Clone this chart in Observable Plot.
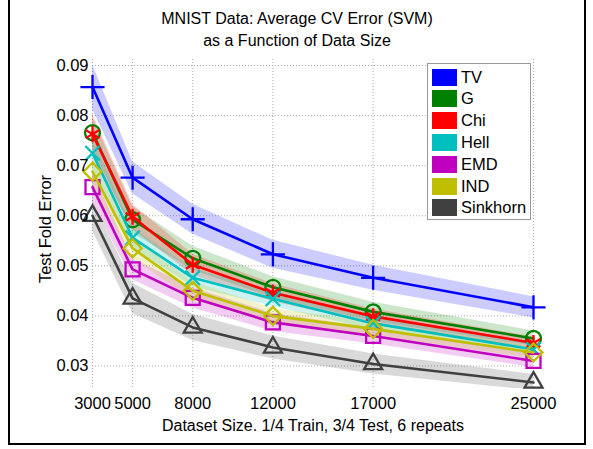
<!DOCTYPE html>
<html><head><meta charset="utf-8">
<script src="https://cdn.jsdelivr.net/npm/d3@7"></script>
<script src="https://cdn.jsdelivr.net/npm/@observablehq/plot@0.6"></script>
<style>
body{margin:0;background:#fff;}
#wrap{position:relative;width:593px;height:449px;font-family:"Liberation Sans",Arial,sans-serif;overflow:hidden;}
#frame{position:absolute;left:8px;top:-4px;width:578px;height:449px;border:2px solid #000;box-sizing:border-box;pointer-events:none;}
#legend{position:absolute;left:427px;top:63px;width:104px;height:157px;border:1px solid #999;background:#fff;box-sizing:border-box;}
.item{position:absolute;left:4px;height:18px;display:flex;align-items:center;font-size:16.5px;color:#000;}
.sw{width:25px;height:17px;margin-right:4px;box-sizing:border-box;}
</style></head>
<body>
<div id="wrap"><div id="chart"></div><div id="legend"></div><div id="frame"></div></div>
<script>
// ---- data ----
const sizes = [3000, 5000, 8000, 12000, 17000, 25000];
const xTicks = [3000, 5000, 8000, 12000, 17000, 25000];
const yTicks = [0.03, 0.04, 0.05, 0.06, 0.07, 0.08, 0.09];
const seriesNames = ["TV", "G", "Chi", "Hell", "EMD", "IND", "Sinkhorn"];
const tv       = [0.0857, 0.0676, 0.0593, 0.0523, 0.0476, 0.0417];
const g        = [0.0766, 0.0592, 0.0515, 0.0457, 0.0408, 0.0355];
const chi      = [0.0763, 0.0598, 0.0502, 0.0446, 0.0399, 0.0346];
const hell     = [0.0725, 0.0556, 0.0476, 0.0434, 0.0385, 0.0333];
const emd      = [0.0657, 0.0493, 0.0436, 0.0387, 0.0360, 0.0310];
const ind      = [0.0688, 0.0535, 0.0450, 0.0400, 0.0374, 0.0327];
const sinkhorn = [0.0600, 0.0435, 0.0377, 0.0337, 0.0304, 0.0267];
const tvSd       = [0.0045, 0.0032, 0.0030, 0.0028, 0.0025, 0.0021];
const gSd        = [0.0030, 0.0026, 0.0024, 0.0021, 0.0019, 0.0015];
const chiSd      = [0.0040, 0.0025, 0.0021, 0.0018, 0.0015, 0.0012];
const hellSd     = [0.0030, 0.0020, 0.0018, 0.0015, 0.0013, 0.0011];
const emdSd      = [0.0030, 0.0021, 0.0020, 0.0018, 0.0016, 0.0013];
const indSd      = [0.0030, 0.0020, 0.0018, 0.0015, 0.0013, 0.0012];
const sinkhornSd = [0.0030, 0.0030, 0.0026, 0.0023, 0.0020, 0.0016];

const means = [tv, g, chi, hell, emd, ind, sinkhorn];
const sds = [tvSd, gSd, chiSd, hellSd, emdSd, indSd, sinkhornSd];

// ---- styles ----
const colors = ["#0000ff", "#008000", "#ff0000", "#00bfbf", "#bf00bf", "#bfbf00", "#404040"];
const symbols = ["plus", "circle", "asterisk", "times", "square2", "diamond2", "triangle2"];
const radii = [7.8, 7.5, 7.6, 6.6, 8.9, 8.1, 8.6];

const rows = [];
seriesNames.forEach((name, i) => {
  sizes.forEach((s, j) => {
    rows.push({series: name, idx: i, size: s, err: means[i][j], lo: means[i][j] - sds[i][j], hi: means[i][j] + sds[i][j]});
  });
});

const grid = {stroke: "#aaa", strokeOpacity: 1, strokeDasharray: "1,2", strokeWidth: 1};
const marks = [
  Plot.gridX({ticks: xTicks, ...grid}),
  Plot.gridY({ticks: yTicks, ...grid})
];
seriesNames.forEach((name, i) => {
  marks.push(Plot.areaY(rows.filter(d => d.idx === i), {x: "size", y1: "lo", y2: "hi", fill: colors[i], fillOpacity: 0.2, clip: true}));
});
seriesNames.forEach((name, i) => {
  const data = rows.filter(d => d.idx === i);
  marks.push(Plot.lineY(data, {x: "size", y: "err", stroke: colors[i], strokeWidth: 2.6}));
  marks.push(Plot.dot(data, {x: "size", y: "err", stroke: colors[i], fill: "none", symbol: symbols[i], r: radii[i], strokeWidth: 2.3}));
});
const txt = {fontSize: 16, fill: "#000", lineAnchor: "middle", textAnchor: "middle"};
marks.push(
  Plot.axisX({ticks: xTicks, tickSize: 0, tickPadding: 9, tickFormat: d => String(d), label: null, fontSize: 16.5}),
  Plot.axisY({ticks: yTicks, tickSize: 0, tickPadding: 4, tickFormat: d3.format(".2f"), label: null, fontSize: 16.5}),
  Plot.text(["Dataset Size. 1/4 Train, 3/4 Test, 6 repeats"], {frameAnchor: "bottom", dy: 37, ...txt}),
  Plot.text(["Test Fold Error"], {frameAnchor: "left", dx: -47, dy: 5, rotate: -90, ...txt, fontSize: 16.5}),
  Plot.text(["MNIST Data: Average CV Error (SVM)"], {frameAnchor: "top", dx: -16, dy: -41, ...txt}),
  Plot.text(["as a Function of Data Size"], {frameAnchor: "top", dx: -16, dy: -19, ...txt})
);

const chart = Plot.plot({
  width: 593,
  height: 449,
  marginLeft: 92,
  marginRight: 60,
  marginTop: 59,
  marginBottom: 61,
  style: {fontFamily: '"Liberation Sans", Arial, sans-serif', fontSize: "16px", color: "#000", background: "transparent"},
  x: {type: "linear", domain: [3000, 25000]},
  y: {domain: [0.0255, 0.0912]},
  marks
});
document.getElementById("chart").appendChild(chart);

// legend
const legend = document.getElementById("legend");
seriesNames.forEach((name, i) => {
  const item = document.createElement("div");
  item.className = "item";
  item.style.top = (4 + i * 21.8) + "px";
  const sw = document.createElement("div");
  sw.className = "sw";
  sw.style.background = colors[i];
  const lab = document.createElement("span");
  lab.textContent = name;
  item.appendChild(sw);
  item.appendChild(lab);
  legend.appendChild(item);
});
</script>
</body></html>
